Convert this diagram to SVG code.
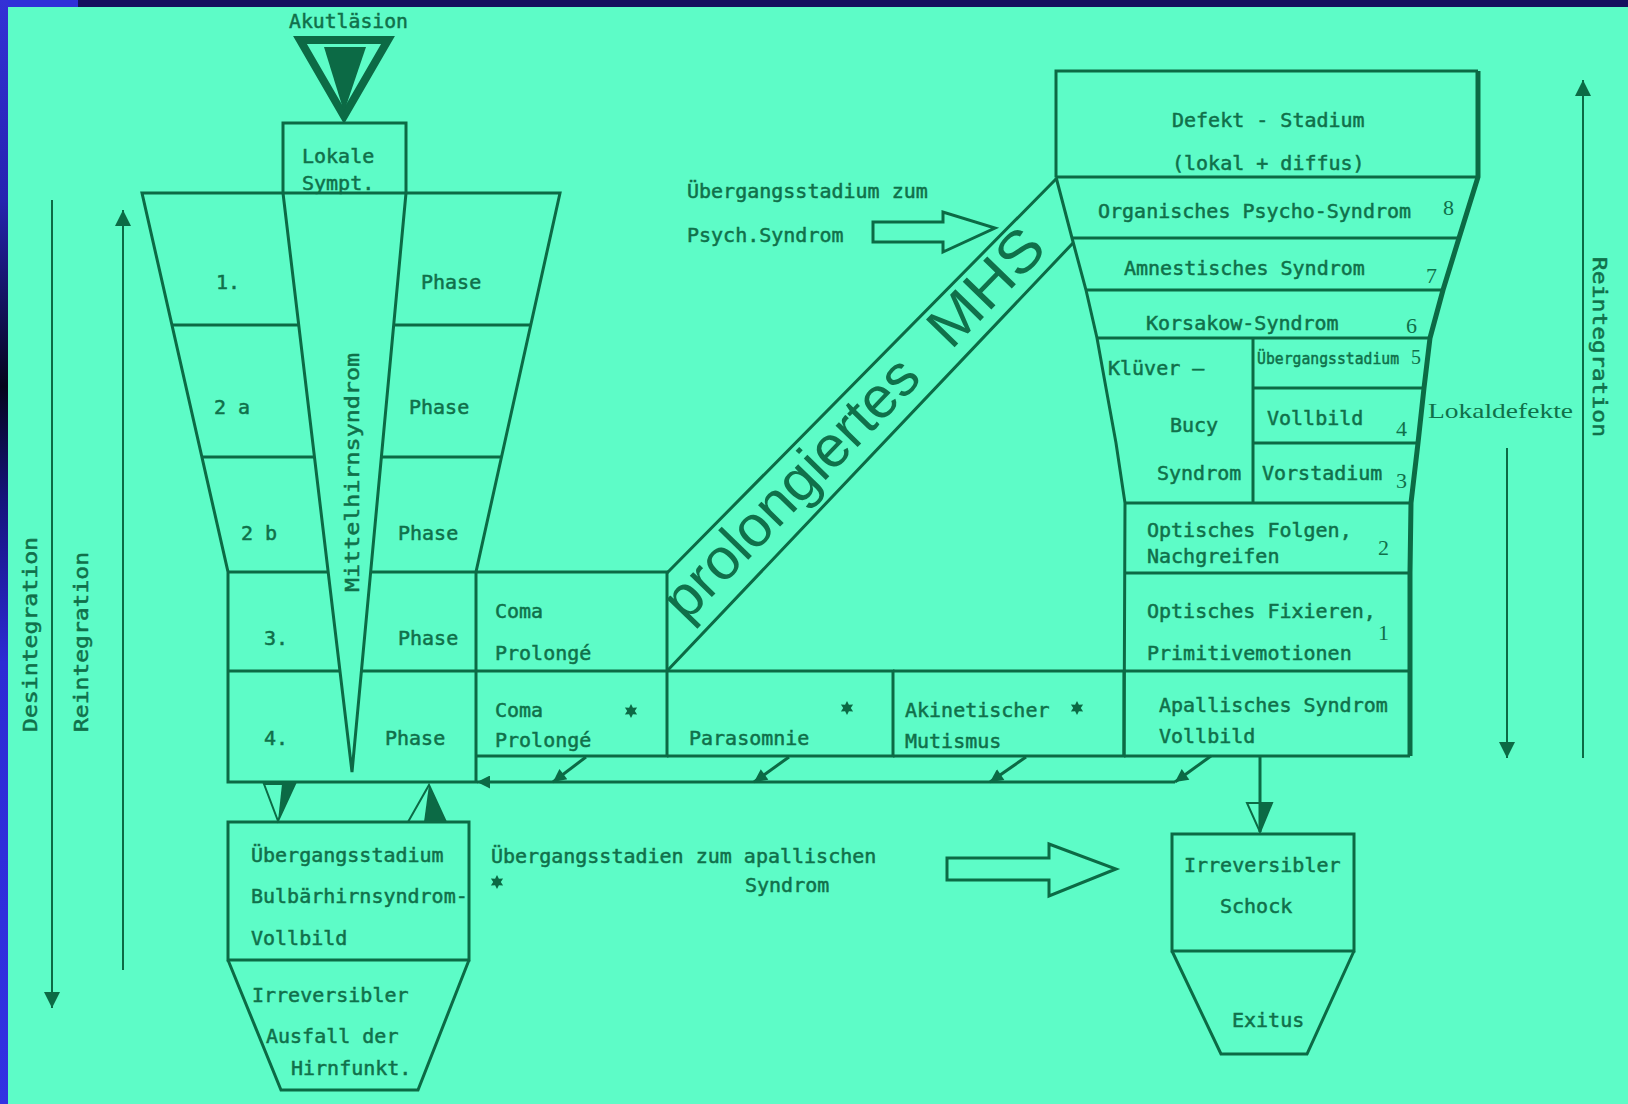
<svg xmlns="http://www.w3.org/2000/svg" width="1628" height="1104" viewBox="0 0 1628 1104">
<defs>
<style>
.t{font-family:"DejaVu Sans Mono","Liberation Mono",monospace;font-size:20px;fill:#10704a;stroke:#10704a;stroke-width:0.5}
.sm{font-size:16px}
.s{font-family:"Liberation Serif","Times New Roman",serif;font-size:22px;fill:#10704a}
.big{font-family:"Liberation Sans",Arial,sans-serif;font-size:58px;fill:#10704a}
.ln{stroke:#0c6a45;stroke-width:3;fill:none;stroke-linejoin:miter}
.thick{stroke:#0c6a45;stroke-width:5;fill:none;stroke-linejoin:round}
.thin{stroke:#0c6a45;stroke-width:2;fill:none}
.fill{fill:#0c6a45}
.hollow{stroke:#0c6a45;stroke-width:3;fill:#5dfcc7;stroke-linejoin:miter}
</style>
<linearGradient id="leftbar" x1="0" y1="0" x2="0" y2="1">
<stop offset="0" stop-color="#3331d6"/>
<stop offset="0.18" stop-color="#2624b0"/>
<stop offset="0.35" stop-color="#05051c"/>
<stop offset="0.45" stop-color="#15137a"/>
<stop offset="0.6" stop-color="#2d2bd4"/>
<stop offset="1" stop-color="#3232e2"/>
</linearGradient>
<marker id="ahBig" viewBox="0 0 10 10" refX="10" refY="5" markerWidth="28" markerHeight="16" markerUnits="userSpaceOnUse" orient="auto"><path d="M0,0 L10,5 L0,10 z" fill="#0c6a45"/></marker>
<marker id="ahSmall" viewBox="0 0 10 10" refX="10" refY="5" markerWidth="16" markerHeight="13" markerUnits="userSpaceOnUse" orient="auto"><path d="M0,0 L10,5 L0,10 z" fill="#0c6a45"/></marker>
<polygon id="star" points="0,-7 1.9,-3.3 6.1,-3.5 3.8,0 6.1,3.5 1.9,3.3 0,7 -1.9,3.3 -6.1,3.5 -3.8,0 -6.1,-3.5 -1.9,-3.3" fill="#0c6a45"/>
</defs>

<g id="frame">
<rect x="0" y="0" width="1628" height="1104" fill="#5dfcc7"/>
<rect x="0" y="0" width="1628" height="7" fill="#15105e"/>
<rect x="0" y="0" width="78" height="7" fill="#3030d8"/>
<rect x="0" y="0" width="8" height="1104" fill="url(#leftbar)"/>
</g>

<g id="node-akutlaesion">
<text class="t" x="289" y="28" textLength="119" lengthAdjust="spacingAndGlyphs">Akutläsion</text>
<polygon points="300,40 388,40 344,116" class="ln" style="stroke-width:8"/>
<polygon points="324,47 366,47 344,112" class="fill"/>
</g>

<g id="node-lokale">
<path class="ln" d="M283,193 V123 H406 V193"/>
<text class="t" x="302" y="163">Lokale</text>
<text class="t" x="302" y="190">Sympt.</text>
</g>

<g id="node-funnel-left">
<path class="ln" d="M142,193 L560,193 L476,572 L476,782 L228,782 L228,572 Z"/>
<path class="ln" d="M283,193 L352,772 L406,193"/>
<path class="ln" d="M172,325 H299 M394,325 H531 M202,457 H314 M381,457 H501 M228,572 H328 M371,572 H476 M228,671 H340 M361,671 H476"/>
<text class="t" x="216" y="289">1.</text>
<text class="t" x="421" y="289">Phase</text>
<text class="t" x="214" y="414">2 a</text>
<text class="t" x="409" y="414">Phase</text>
<text class="t" x="241" y="540">2 b</text>
<text class="t" x="398" y="540">Phase</text>
<text class="t" x="264" y="645">3.</text>
<text class="t" x="398" y="645">Phase</text>
<text class="t" x="264" y="745">4.</text>
<text class="t" x="385" y="745">Phase</text>
<text class="t" transform="translate(359,592) rotate(-90)" x="0" y="0" textLength="239" lengthAdjust="spacingAndGlyphs">Mittelhirnsyndrom</text>
</g>

<g id="node-coma-upper">
<path class="ln" d="M476,572 H667 V671"/>
<text class="t" x="495" y="618">Coma</text>
<text class="t" x="495" y="660">Prolongé</text>
</g>

<g id="node-coma-lower">
<path class="ln" d="M476,671 H667 V756 H476"/>
<text class="t" x="495" y="717">Coma</text>
<text class="t" x="495" y="747">Prolongé</text>
<use href="#star" x="631" y="711"/>
</g>

<g id="node-parasomnie">
<path class="ln" d="M667,671 H893 V756 H667"/>
<text class="t" x="689" y="745">Parasomnie</text>
<use href="#star" x="847" y="708"/>
</g>

<g id="node-akinetisch">
<path class="ln" d="M893,671 H1124 V756 H893"/>
<text class="t" x="905" y="717">Akinetischer</text>
<text class="t" x="905" y="748">Mutismus</text>
<use href="#star" x="1077" y="708"/>
</g>

<g id="node-apallisch">
<path class="ln" d="M1124,671 H1410 M1124,756 H1410"/>
<text class="t" x="1159" y="712">Apallisches Syndrom</text>
<text class="t" x="1159" y="743">Vollbild</text>
</g>

<g id="node-prolongiertes-mhs">
<path class="ln" d="M667,573 L1056,179 M667,671 L1073,243"/>
<text class="big" transform="translate(667,621.5) rotate(-45.8)" x="12" y="15" textLength="340" lengthAdjust="spacingAndGlyphs">prolongiertes</text>
<text class="big" transform="translate(667,621.5) rotate(-45.8)" x="392" y="15" textLength="140" lengthAdjust="spacingAndGlyphs">MHS</text>
</g>

<g id="node-funnel-right">
<path class="ln" d="M1478,71 H1056 V177 M1056,177 L1072,238 L1086,290 L1097,338 L1106,388 L1116,443 L1125,503 L1124,756"/>
<path class="thick" d="M1478,71 L1478,177 L1459,238 L1443,290 L1430,338 L1424,388 L1418,443 L1411,503 L1410,573 L1410,756"/>
<path class="ln" d="M1056,177 H1478 M1072,238 H1459 M1086,290 H1443 M1097,338 H1430 M1253,338 V503 M1253,388 H1424 M1253,443 H1418 M1125,503 H1411 M1124,573 H1410"/>
<text class="t" x="1172" y="127">Defekt - Stadium</text>
<text class="t" x="1172" y="170">(lokal + diffus)</text>
<text class="t" x="1098" y="218">Organisches Psycho-Syndrom</text>
<text class="s" x="1443" y="215">8</text>
<text class="t" x="1124" y="275">Amnestisches Syndrom</text>
<text class="s" x="1426" y="283">7</text>
<text class="t" x="1146" y="330">Korsakow-Syndrom</text>
<text class="s" x="1406" y="333">6</text>
<text class="t" x="1108" y="375">Klüver –</text>
<text class="t" x="1170" y="432">Bucy</text>
<text class="t" x="1157" y="480">Syndrom</text>
<text class="t sm" x="1257" y="364" textLength="142" lengthAdjust="spacingAndGlyphs">Übergangsstadium</text>
<text class="s" x="1411" y="364" style="font-size:20px">5</text>
<text class="t" x="1267" y="425">Vollbild</text>
<text class="s" x="1396" y="436">4</text>
<text class="t" x="1262" y="480">Vorstadium</text>
<text class="s" x="1396" y="488">3</text>
<text class="t" x="1147" y="537">Optisches Folgen,</text>
<text class="t" x="1147" y="563">Nachgreifen</text>
<text class="s" x="1378" y="555">2</text>
<text class="t" x="1147" y="618">Optisches Fixieren,</text>
<text class="t" x="1147" y="660">Primitivemotionen</text>
<text class="s" x="1378" y="640">1</text>
</g>

<g id="node-uebergang-bulbaer">
<rect class="ln" x="228" y="822" width="241" height="138"/>
<text class="t" x="251" y="862">Übergangsstadium</text>
<text class="t" x="251" y="903">Bulbärhirnsyndrom-</text>
<text class="t" x="251" y="945">Vollbild</text>
</g>

<g id="node-irrev-ausfall">
<path class="ln" d="M228,960 L281,1090 H418 L469,960"/>
<text class="t" x="252" y="1002">Irreversibler</text>
<text class="t" x="266" y="1043">Ausfall der</text>
<text class="t" x="291" y="1075">Hirnfunkt.</text>
</g>

<g id="node-schock">
<rect class="ln" x="1172" y="834" width="182" height="117"/>
<text class="t" x="1184" y="872">Irreversibler</text>
<text class="t" x="1220" y="913">Schock</text>
</g>

<g id="node-exitus">
<path class="ln" d="M1172,951 L1221,1054 H1307 L1354,951"/>
<text class="t" x="1232" y="1027">Exitus</text>
</g>

<g id="labels">
<text class="t" x="687" y="198">Übergangsstadium zum</text>
<text class="t" x="687" y="242">Psych.Syndrom</text>
<text class="t" x="491" y="863">Übergangsstadien zum apallischen</text>
<text class="t" x="745" y="892">Syndrom</text>
<use href="#star" x="497" y="882"/>
<text class="t" transform="translate(37,732) rotate(-90)" textLength="195" lengthAdjust="spacingAndGlyphs">Desintegration</text>
<text class="t" transform="translate(88,732) rotate(-90)" textLength="180" lengthAdjust="spacingAndGlyphs">Reintegration</text>
<text class="t" transform="translate(1593,257) rotate(90)" textLength="180" lengthAdjust="spacingAndGlyphs">Reintegration</text>
<text class="s" x="1428" y="418" textLength="145" lengthAdjust="spacingAndGlyphs">Lokaldefekte</text>
</g>

<g id="connectors">
<line class="thin" x1="52" y1="200" x2="52" y2="1008" marker-end="url(#ahBig)"/>
<line class="thin" x1="123" y1="970" x2="123" y2="210" marker-end="url(#ahBig)"/>
<line class="thin" x1="1583" y1="758" x2="1583" y2="80" marker-end="url(#ahBig)"/>
<line class="thin" x1="1507" y1="448" x2="1507" y2="758" marker-end="url(#ahBig)"/>
<path class="ln" d="M1175,782 H477" marker-end="url(#ahSmall)"/>
<path class="ln" d="M1211,756 L1175,782" marker-end="url(#ahSmall)"/>
<path class="ln" d="M586,757 L553,782" marker-end="url(#ahSmall)"/>
<path class="ln" d="M789,757 L754,782" marker-end="url(#ahSmall)"/>
<path class="ln" d="M1026,757 L990,782" marker-end="url(#ahSmall)"/>
<line class="ln" x1="1260" y1="756" x2="1260" y2="832"/>
<polygon class="thin" points="1247,803 1272,803 1260,832"/>
<polygon class="fill" points="1259,803 1272,803 1260,832"/>
<polygon class="thin" points="264,784 295,784 278,821"/>
<polygon class="fill" points="282,784 295,784 278,821"/>
<polygon class="thin" points="408,822 446,822 429,785"/>
<polygon class="fill" points="424,822 446,822 429,785"/>
<polygon class="hollow" points="873,222 943,222 943,212 995,228 943,252 943,242 873,242"/>
<polygon class="hollow" points="947,858 1049,858 1049,844 1116,869 1049,896 1049,880 947,880"/>
</g>
</svg>
